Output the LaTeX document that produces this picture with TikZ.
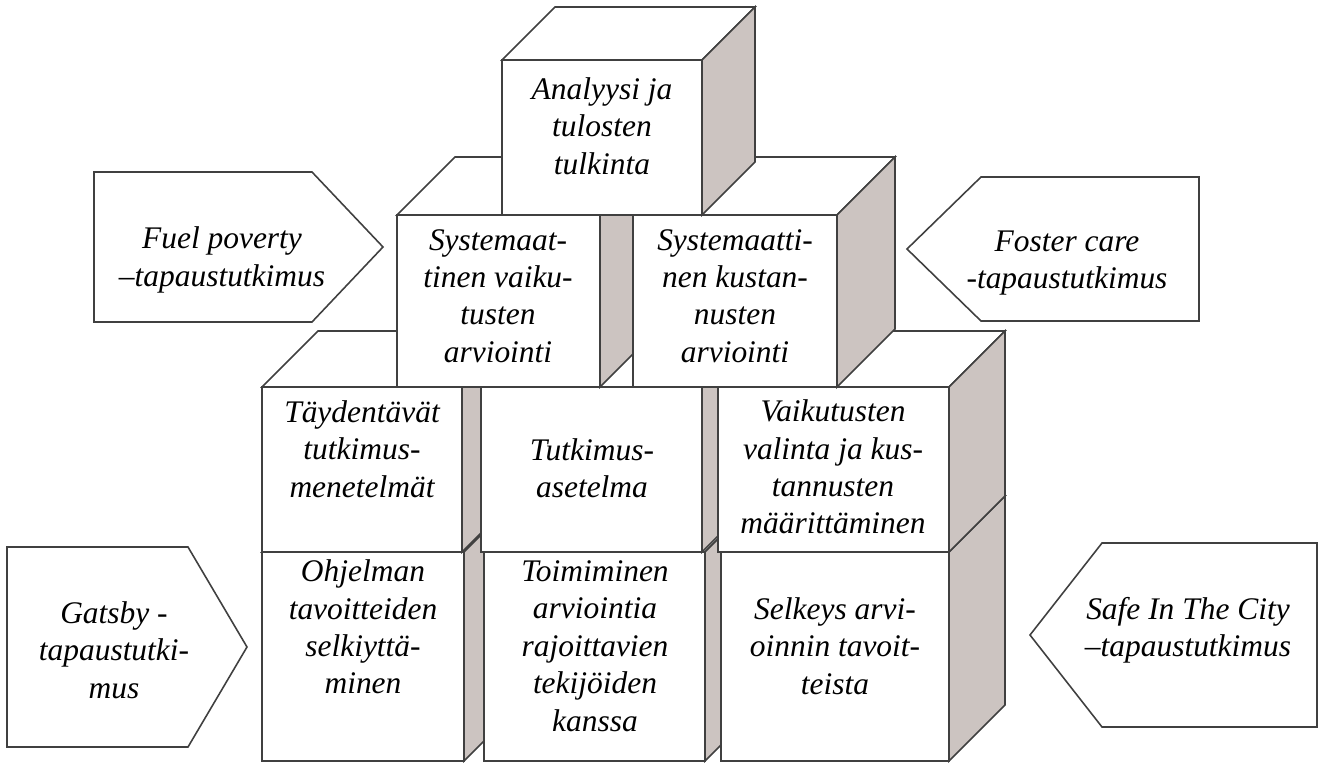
\documentclass[tikz,border=0pt]{standalone}
\usepackage{fontspec}
\setmainfont{Liberation Serif}
\usepackage{tikz}
\pgfdeclarelayer{edgelayer}
\pgfdeclarelayer{nodelayer}
\pgfsetlayers{edgelayer,nodelayer,main}
\definecolor{sidegrey}{RGB}{204,196,193}
\definecolor{edgegrey}{RGB}{64,64,64}
\tikzstyle{none}=[inner sep=0pt]
\tikzstyle{lbl}=[align=center,inner sep=0pt,font=\fontsize{17.9}{21.3}\selectfont\itshape]
\tikzstyle{face}=[draw=edgegrey,fill=white,line width=0.9pt]
\tikzstyle{side}=[draw=edgegrey,fill=sidegrey,line width=0.9pt]

\begin{document}
\begin{tikzpicture}[x=0.02cm,y=-0.02cm]
	\useasboundingbox (0,0) rectangle (1319,764);
	\begin{pgfonlayer}{nodelayer}
		% top cube
		\node [style=none] (0) at (502, 60) {};
		\node [style=none] (1) at (702, 60) {};
		\node [style=none] (2) at (702, 215) {};
		\node [style=none] (3) at (502, 215) {};
		\node [style=none] (4) at (555, 7) {};
		\node [style=none] (5) at (755, 7) {};
		\node [style=none] (6) at (755, 162) {};
		% second row
		\node [style=none] (7) at (397, 215) {};
		\node [style=none] (8) at (600, 215) {};
		\node [style=none] (9) at (600, 387) {};
		\node [style=none] (10) at (397, 387) {};
		\node [style=none] (11) at (455, 157) {};
		\node [style=none] (12) at (658, 157) {};
		\node [style=none] (13) at (658, 329) {};
		\node [style=none] (14) at (633, 215) {};
		\node [style=none] (15) at (837, 215) {};
		\node [style=none] (16) at (837, 387) {};
		\node [style=none] (17) at (633, 387) {};
		\node [style=none] (18) at (691, 157) {};
		\node [style=none] (19) at (895, 157) {};
		\node [style=none] (20) at (895, 329) {};
		% third row
		\node [style=none] (21) at (262, 387) {};
		\node [style=none] (22) at (462, 387) {};
		\node [style=none] (23) at (462, 552) {};
		\node [style=none] (24) at (262, 552) {};
		\node [style=none] (25) at (318, 331) {};
		\node [style=none] (26) at (518, 331) {};
		\node [style=none] (27) at (518, 496) {};
		\node [style=none] (28) at (481, 387) {};
		\node [style=none] (29) at (702, 387) {};
		\node [style=none] (30) at (702, 552) {};
		\node [style=none] (31) at (481, 552) {};
		\node [style=none] (32) at (537, 331) {};
		\node [style=none] (33) at (758, 331) {};
		\node [style=none] (34) at (758, 496) {};
		\node [style=none] (35) at (718, 387) {};
		\node [style=none] (36) at (949, 387) {};
		\node [style=none] (37) at (949, 552) {};
		\node [style=none] (38) at (718, 552) {};
		\node [style=none] (39) at (774, 331) {};
		\node [style=none] (40) at (1005, 331) {};
		\node [style=none] (41) at (1005, 496) {};
		% bottom row
		\node [style=none] (42) at (262, 552) {};
		\node [style=none] (43) at (464, 552) {};
		\node [style=none] (44) at (464, 761) {};
		\node [style=none] (45) at (262, 761) {};
		\node [style=none] (46) at (318, 496) {};
		\node [style=none] (47) at (520, 496) {};
		\node [style=none] (48) at (520, 705) {};
		\node [style=none] (49) at (484, 552) {};
		\node [style=none] (50) at (705, 552) {};
		\node [style=none] (51) at (705, 761) {};
		\node [style=none] (52) at (484, 761) {};
		\node [style=none] (53) at (540, 496) {};
		\node [style=none] (54) at (761, 496) {};
		\node [style=none] (55) at (761, 705) {};
		\node [style=none] (56) at (721, 552) {};
		\node [style=none] (57) at (949, 552) {};
		\node [style=none] (58) at (949, 761) {};
		\node [style=none] (59) at (721, 761) {};
		\node [style=none] (60) at (777, 496) {};
		\node [style=none] (61) at (1005, 496) {};
		\node [style=none] (62) at (1005, 705) {};
		% case study arrows
		\node [style=none] (63) at (94, 172) {};
		\node [style=none] (64) at (312, 172) {};
		\node [style=none] (65) at (383, 247) {};
		\node [style=none] (66) at (312, 322) {};
		\node [style=none] (67) at (94, 322) {};
		\node [style=none] (68) at (907, 249) {};
		\node [style=none] (69) at (981, 177) {};
		\node [style=none] (70) at (1199, 177) {};
		\node [style=none] (71) at (1199, 321) {};
		\node [style=none] (72) at (981, 321) {};
		\node [style=none] (73) at (7, 547) {};
		\node [style=none] (74) at (188, 547) {};
		\node [style=none] (75) at (247, 647) {};
		\node [style=none] (76) at (188, 747) {};
		\node [style=none] (77) at (7, 747) {};
		\node [style=none] (78) at (1030, 635) {};
		\node [style=none] (79) at (1102, 543) {};
		\node [style=none] (80) at (1317, 543) {};
		\node [style=none] (81) at (1317, 727) {};
		\node [style=none] (82) at (1102, 727) {};
		% texts
		\node [style=lbl] (83) at (602, 126) {Analyysi ja\\tulosten\\tulkinta};
		\node [style=lbl] (84) at (498, 296) {Systemaat-\\tinen vaiku-\\tusten\\arviointi};
		\node [style=lbl] (85) at (735, 296) {Systemaatti-\\nen kustan-\\nusten\\arviointi};
		\node [style=lbl] (86) at (362, 449) {Täydentävät\\tutkimus-\\menetelmät};
		\node [style=lbl] (87) at (592, 468) {Tutkimus-\\asetelma};
		\node [style=lbl] (88) at (833, 467) {Vaikutusten\\valinta ja kus-\\tannusten\\määrittäminen};
		\node [style=lbl] (89) at (363, 627) {Ohjelman\\tavoitteiden\\selkiyttä-\\minen};
		\node [style=lbl] (90) at (595, 646) {Toimiminen\\arviointia\\rajoittavien\\tekijöiden\\kanssa};
		\node [style=lbl] (91) at (835, 646) {Selkeys arvi-\\oinnin tavoit-\\teista};
		\node [style=lbl] (92) at (222, 260) {Fuel poverty\\–tapaustutkimus};
		\node [style=lbl] (93) at (1067, 263) {Foster care\\-tapaustutkimus};
		\node [style=lbl] (94) at (114, 650) {Gatsby -\\tapaustutki-\\mus};
		\node [style=lbl] (95) at (1188, 630) {Safe In The City\\–tapaustutkimus};
	\end{pgfonlayer}
	\begin{pgfonlayer}{edgelayer}
		% bottom row
		\draw [style=face] (42.center) to (46.center) to (47.center) to (43.center) -- cycle;
		\draw [style=side] (43.center) to (47.center) to (48.center) to (44.center) -- cycle;
		\draw [style=face] (42.center) to (43.center) to (44.center) to (45.center) -- cycle;
		\draw [style=face] (49.center) to (53.center) to (54.center) to (50.center) -- cycle;
		\draw [style=side] (50.center) to (54.center) to (55.center) to (51.center) -- cycle;
		\draw [style=face] (49.center) to (50.center) to (51.center) to (52.center) -- cycle;
		\draw [style=face] (56.center) to (60.center) to (61.center) to (57.center) -- cycle;
		\draw [style=side] (57.center) to (61.center) to (62.center) to (58.center) -- cycle;
		\draw [style=face] (56.center) to (57.center) to (58.center) to (59.center) -- cycle;
		% third row
		\draw [style=face] (21.center) to (25.center) to (26.center) to (22.center) -- cycle;
		\draw [style=side] (22.center) to (26.center) to (27.center) to (23.center) -- cycle;
		\draw [style=face] (21.center) to (22.center) to (23.center) to (24.center) -- cycle;
		\draw [style=face] (28.center) to (32.center) to (33.center) to (29.center) -- cycle;
		\draw [style=side] (29.center) to (33.center) to (34.center) to (30.center) -- cycle;
		\draw [style=face] (28.center) to (29.center) to (30.center) to (31.center) -- cycle;
		\draw [style=face] (35.center) to (39.center) to (40.center) to (36.center) -- cycle;
		\draw [style=side] (36.center) to (40.center) to (41.center) to (37.center) -- cycle;
		\draw [style=face] (35.center) to (36.center) to (37.center) to (38.center) -- cycle;
		% second row
		\draw [style=face] (7.center) to (11.center) to (12.center) to (8.center) -- cycle;
		\draw [style=side] (8.center) to (12.center) to (13.center) to (9.center) -- cycle;
		\draw [style=face] (7.center) to (8.center) to (9.center) to (10.center) -- cycle;
		\draw [style=face] (14.center) to (18.center) to (19.center) to (15.center) -- cycle;
		\draw [style=side] (15.center) to (19.center) to (20.center) to (16.center) -- cycle;
		\draw [style=face] (14.center) to (15.center) to (16.center) to (17.center) -- cycle;
		% top cube
		\draw [style=face] (0.center) to (4.center) to (5.center) to (1.center) -- cycle;
		\draw [style=side] (1.center) to (5.center) to (6.center) to (2.center) -- cycle;
		\draw [style=face] (0.center) to (1.center) to (2.center) to (3.center) -- cycle;
		% case studies
		\draw [style=face] (63.center) to (64.center) to (65.center) to (66.center) to (67.center) -- cycle;
		\draw [style=face] (68.center) to (69.center) to (70.center) to (71.center) to (72.center) -- cycle;
		\draw [style=face] (73.center) to (74.center) to (75.center) to (76.center) to (77.center) -- cycle;
		\draw [style=face] (78.center) to (79.center) to (80.center) to (81.center) to (82.center) -- cycle;
	\end{pgfonlayer}
\end{tikzpicture}
\end{document}
